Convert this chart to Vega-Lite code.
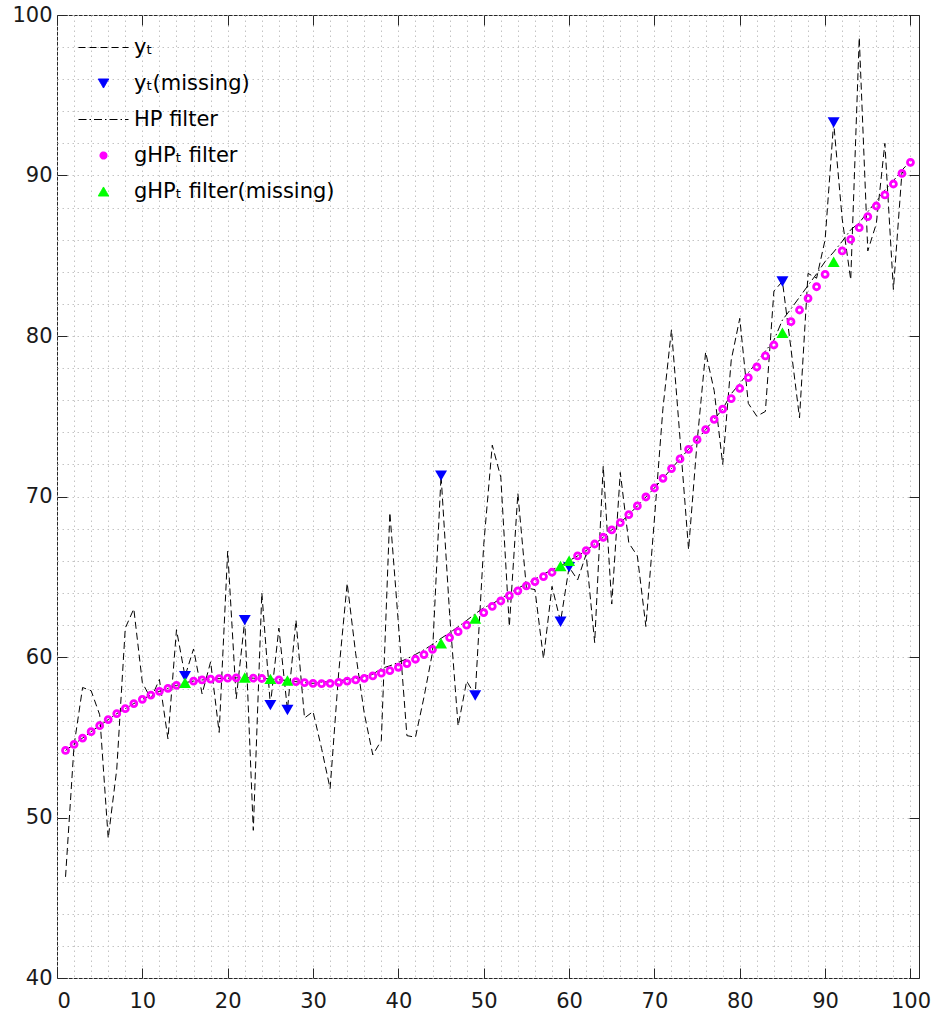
{
  "$schema": "https://vega.github.io/schema/vega-lite/v6.json",
  "width": 862,
  "height": 963,
  "autosize": {"type": "none"},
  "padding": {"left": 57, "top": 15, "right": 14, "bottom": 43},
  "background": "white",
  "config": {"view": {"stroke": "#262626", "strokeWidth": 1}, "font": "DejaVu Sans"},
  "data": {"values": [
    {"x":1,"yT":46.3,"HP":54.18,"gHP":54.18,"miss":0},
    {"x":2,"yT":54.5,"HP":54.56,"gHP":54.56,"miss":0},
    {"x":3,"yT":58.1,"HP":54.95,"gHP":54.95,"miss":0},
    {"x":4,"yT":57.9,"HP":55.35,"gHP":55.35,"miss":0},
    {"x":5,"yT":56.4,"HP":55.72,"gHP":55.72,"miss":0},
    {"x":6,"yT":48.7,"HP":56.10,"gHP":56.10,"miss":0},
    {"x":7,"yT":53.0,"HP":56.47,"gHP":56.47,"miss":0},
    {"x":8,"yT":61.8,"HP":56.78,"gHP":56.78,"miss":0},
    {"x":9,"yT":63.0,"HP":57.10,"gHP":57.10,"miss":0},
    {"x":10,"yT":58.4,"HP":57.36,"gHP":57.36,"miss":0},
    {"x":11,"yT":57.4,"HP":57.63,"gHP":57.63,"miss":0},
    {"x":12,"yT":58.6,"HP":57.86,"gHP":57.86,"miss":0},
    {"x":13,"yT":54.9,"HP":58.05,"gHP":58.05,"miss":0},
    {"x":14,"yT":61.7,"HP":58.23,"gHP":58.23,"miss":0},
    {"x":15,"yT":58.8,"HP":58.40,"gHP":58.40,"miss":1},
    {"x":16,"yT":60.5,"HP":58.50,"gHP":58.50,"miss":0},
    {"x":17,"yT":57.7,"HP":58.57,"gHP":58.57,"miss":0},
    {"x":18,"yT":59.7,"HP":58.62,"gHP":58.62,"miss":0},
    {"x":19,"yT":55.3,"HP":58.65,"gHP":58.65,"miss":0},
    {"x":20,"yT":66.6,"HP":58.68,"gHP":58.68,"miss":0},
    {"x":21,"yT":57.4,"HP":58.70,"gHP":58.70,"miss":0},
    {"x":22,"yT":62.3,"HP":58.72,"gHP":58.72,"miss":1},
    {"x":23,"yT":49.2,"HP":58.68,"gHP":58.68,"miss":0},
    {"x":24,"yT":64.0,"HP":58.66,"gHP":58.66,"miss":0},
    {"x":25,"yT":57.0,"HP":58.64,"gHP":58.64,"miss":1},
    {"x":26,"yT":61.8,"HP":58.58,"gHP":58.58,"miss":0},
    {"x":27,"yT":56.7,"HP":58.54,"gHP":58.54,"miss":1},
    {"x":28,"yT":62.3,"HP":58.46,"gHP":58.46,"miss":0},
    {"x":29,"yT":56.2,"HP":58.40,"gHP":58.40,"miss":0},
    {"x":30,"yT":56.6,"HP":58.36,"gHP":58.36,"miss":0},
    {"x":31,"yT":54.3,"HP":58.44,"gHP":58.34,"miss":0},
    {"x":32,"yT":51.8,"HP":58.46,"gHP":58.36,"miss":0},
    {"x":33,"yT":59.0,"HP":58.52,"gHP":58.42,"miss":0},
    {"x":34,"yT":64.6,"HP":58.60,"gHP":58.50,"miss":0},
    {"x":35,"yT":60.2,"HP":58.67,"gHP":58.57,"miss":0},
    {"x":36,"yT":56.5,"HP":58.77,"gHP":58.67,"miss":0},
    {"x":37,"yT":53.9,"HP":58.92,"gHP":58.82,"miss":0},
    {"x":38,"yT":54.8,"HP":59.29,"gHP":58.99,"miss":0},
    {"x":39,"yT":69.0,"HP":59.45,"gHP":59.15,"miss":0},
    {"x":40,"yT":62.1,"HP":59.66,"gHP":59.36,"miss":0},
    {"x":41,"yT":55.1,"HP":59.89,"gHP":59.59,"miss":0},
    {"x":42,"yT":55.0,"HP":60.16,"gHP":59.86,"miss":0},
    {"x":43,"yT":57.5,"HP":60.45,"gHP":60.15,"miss":0},
    {"x":44,"yT":60.3,"HP":60.78,"gHP":60.48,"miss":0},
    {"x":45,"yT":71.3,"HP":61.16,"gHP":60.86,"miss":1},
    {"x":46,"yT":62.7,"HP":61.51,"gHP":61.21,"miss":0},
    {"x":47,"yT":55.7,"HP":61.88,"gHP":61.58,"miss":0},
    {"x":48,"yT":58.5,"HP":62.28,"gHP":61.98,"miss":0},
    {"x":49,"yT":57.6,"HP":62.69,"gHP":62.39,"miss":1},
    {"x":50,"yT":67.0,"HP":63.07,"gHP":62.77,"miss":0},
    {"x":51,"yT":73.2,"HP":63.31,"gHP":63.16,"miss":0},
    {"x":52,"yT":71.2,"HP":63.64,"gHP":63.49,"miss":0},
    {"x":53,"yT":61.9,"HP":63.97,"gHP":63.82,"miss":0},
    {"x":54,"yT":70.2,"HP":64.27,"gHP":64.12,"miss":0},
    {"x":55,"yT":64.3,"HP":64.58,"gHP":64.43,"miss":0},
    {"x":56,"yT":64.2,"HP":64.85,"gHP":64.70,"miss":0},
    {"x":57,"yT":59.9,"HP":65.16,"gHP":65.01,"miss":0},
    {"x":58,"yT":64.4,"HP":65.43,"gHP":65.28,"miss":0},
    {"x":59,"yT":62.2,"HP":65.67,"gHP":65.67,"miss":1},
    {"x":60,"yT":65.6,"HP":66.00,"gHP":66.00,"miss":1},
    {"x":61,"yT":64.8,"HP":66.30,"gHP":66.30,"miss":0},
    {"x":62,"yT":66.4,"HP":66.63,"gHP":66.63,"miss":0},
    {"x":63,"yT":60.9,"HP":67.04,"gHP":67.04,"miss":0},
    {"x":64,"yT":71.9,"HP":67.46,"gHP":67.46,"miss":0},
    {"x":65,"yT":63.3,"HP":67.92,"gHP":67.92,"miss":0},
    {"x":66,"yT":71.5,"HP":68.37,"gHP":68.37,"miss":0},
    {"x":67,"yT":67.1,"HP":68.87,"gHP":68.87,"miss":0},
    {"x":68,"yT":66.3,"HP":69.41,"gHP":69.41,"miss":0},
    {"x":69,"yT":61.9,"HP":69.97,"gHP":69.97,"miss":0},
    {"x":70,"yT":68.6,"HP":70.53,"gHP":70.53,"miss":0},
    {"x":71,"yT":75.5,"HP":71.13,"gHP":71.13,"miss":0},
    {"x":72,"yT":80.4,"HP":71.74,"gHP":71.74,"miss":0},
    {"x":73,"yT":73.6,"HP":72.34,"gHP":72.34,"miss":0},
    {"x":74,"yT":66.7,"HP":72.94,"gHP":72.94,"miss":0},
    {"x":75,"yT":73.4,"HP":73.54,"gHP":73.54,"miss":0},
    {"x":76,"yT":79.0,"HP":74.17,"gHP":74.17,"miss":0},
    {"x":77,"yT":76.6,"HP":74.81,"gHP":74.81,"miss":0},
    {"x":78,"yT":72.0,"HP":75.45,"gHP":75.45,"miss":0},
    {"x":79,"yT":78.5,"HP":76.40,"gHP":76.10,"miss":0},
    {"x":80,"yT":81.1,"HP":77.04,"gHP":76.74,"miss":0},
    {"x":81,"yT":75.8,"HP":77.71,"gHP":77.41,"miss":0},
    {"x":82,"yT":75.0,"HP":78.37,"gHP":78.07,"miss":0},
    {"x":83,"yT":75.3,"HP":79.06,"gHP":78.76,"miss":0},
    {"x":84,"yT":82.8,"HP":79.74,"gHP":79.44,"miss":0},
    {"x":85,"yT":83.4,"HP":81.00,"gHP":80.20,"miss":1},
    {"x":86,"yT":79.2,"HP":81.69,"gHP":80.89,"miss":0},
    {"x":87,"yT":74.9,"HP":82.42,"gHP":81.62,"miss":0},
    {"x":88,"yT":83.9,"HP":83.15,"gHP":82.35,"miss":0},
    {"x":89,"yT":83.6,"HP":83.87,"gHP":83.07,"miss":0},
    {"x":90,"yT":86.0,"HP":84.64,"gHP":83.84,"miss":0},
    {"x":91,"yT":93.3,"HP":85.23,"gHP":84.63,"miss":1},
    {"x":92,"yT":87.3,"HP":85.90,"gHP":85.30,"miss":0},
    {"x":93,"yT":83.5,"HP":86.62,"gHP":86.02,"miss":0},
    {"x":94,"yT":98.6,"HP":87.05,"gHP":86.75,"miss":0},
    {"x":95,"yT":85.3,"HP":87.74,"gHP":87.44,"miss":0},
    {"x":96,"yT":87.0,"HP":88.40,"gHP":88.10,"miss":0},
    {"x":97,"yT":92.0,"HP":89.09,"gHP":88.79,"miss":0},
    {"x":98,"yT":82.9,"HP":89.67,"gHP":89.47,"miss":0},
    {"x":99,"yT":90.2,"HP":90.33,"gHP":90.13,"miss":0},
    {"x":100,"yT":90.0,"HP":90.90,"gHP":90.82,"miss":0}
  ]},
  "resolve": {"axis": {"x": "independent", "y": "independent"}},
  "layer": [
    {
      "mark": {"type": "line", "strokeDash": [7, 4], "strokeWidth": 1, "clip": true},
      "encoding": {
        "x": {"field": "x", "type": "quantitative", "scale": {"domain": [0, 101], "nice": false, "zero": false},
          "axis": {"orient": "bottom", "title": null, "values": [0,2,4,6,8,10,12,14,16,18,20,22,24,26,28,30,32,34,36,38,40,42,44,46,48,50,52,54,56,58,60,62,64,66,68,70,72,74,76,78,80,82,84,86,88,90,92,94,96,98,100],
            "labelExpr": "datum.value % 10 === 0 ? datum.label : ''", "grid": true, "gridDash": [1.5, 3.5], "gridColor": "#c4c4c4", "gridWidth": 1,
            "tickOpacity": {"condition": {"test": "datum.value % 10 === 0", "value": 1}, "value": 0},
            "tickSize": -10, "tickColor": "#262626", "domain": false, "labelFont": "DejaVu Sans", "labelFontSize": 21, "labelColor": "#1a1a1a", "labelPadding": 22}},
        "y": {"field": "yT", "type": "quantitative", "scale": {"domain": [40, 100], "nice": false, "zero": false},
          "axis": {"orient": "left", "title": null, "values": [40,42,44,46,48,50,52,54,56,58,60,62,64,66,68,70,72,74,76,78,80,82,84,86,88,90,92,94,96,98,100],
            "labelExpr": "datum.value % 10 === 0 ? datum.label : ''", "grid": true, "gridDash": [1.5, 3.5], "gridColor": "#c4c4c4", "gridWidth": 1,
            "tickOpacity": {"condition": {"test": "datum.value % 10 === 0", "value": 1}, "value": 0},
            "tickSize": -10, "tickColor": "#262626", "domain": false, "labelFont": "DejaVu Sans", "labelFontSize": 21, "labelColor": "#1a1a1a", "labelPadding": 15}},
        "color": {"datum": "yT", "scale": {"domain": ["yT", "yTm", "HP", "gHP", "gHPm"], "range": ["#000000", "#0000FF", "#000000", "#FF00FF", "#00FF00"]},
          "legend": {"title": null, "orient": "none", "legendX": 36, "legendY": 22, "symbolSize": 144, "labelOffset": 20, "rowPadding": 14, "padding": 0,
            "labelFont": "DejaVu Sans", "labelFontSize": 21, "labelColor": "#000000", "labelLimit": 400,
            "labelExpr": "datum.value === 'yT' ? 'yₜ' : datum.value === 'yTm' ? 'yₜ(missing)' : datum.value === 'HP' ? 'HP filter' : datum.value === 'gHP' ? 'gHPₜ filter' : 'gHPₜ filter(missing)'",
            "encode": {"symbols": {"update": {
              "shape": {"signal": "datum.value === 'yT' || datum.value === 'HP' ? 'stroke' : datum.value === 'yTm' ? 'triangle-down' : datum.value === 'gHP' ? 'circle' : 'triangle-up'"},
              "size": {"signal": "datum.value === 'yT' || datum.value === 'HP' ? 2500 : datum.value === 'gHP' ? 31 : 110"},
              "strokeDash": {"signal": "datum.value === 'yT' ? [7,4] : datum.value === 'HP' ? [8,3,1.5,3] : [1,0]"},
              "fill": {"signal": "datum.value === 'yTm' ? '#0000FF' : datum.value === 'gHPm' ? '#00FF00' : 'transparent'"},
              "stroke": {"signal": "datum.value === 'yTm' ? '#0000FF' : datum.value === 'gHPm' ? '#00FF00' : datum.value === 'gHP' ? '#FF00FF' : '#000000'"},
              "strokeWidth": {"signal": "datum.value === 'gHP' ? 2.5 : 1"},
              "opacity": {"value": 1}
            }}}}}
      }
    },
    {
      "transform": [{"filter": "datum.miss === 1"}],
      "mark": {"type": "point", "shape": "triangle-down", "filled": true, "size": 144, "opacity": 1},
      "encoding": {
        "x": {"field": "x", "type": "quantitative", "scale": {"domain": [0, 101], "nice": false, "zero": false},
          "axis": {"orient": "top", "title": null, "values": [0,10,20,30,40,50,60,70,80,90,100], "labels": false, "grid": false, "tickSize": -10, "tickColor": "#262626", "domain": false}},
        "y": {"field": "yT", "type": "quantitative", "scale": {"domain": [40, 100], "nice": false, "zero": false},
          "axis": {"orient": "right", "title": null, "values": [40,50,60,70,80,90,100], "labels": false, "grid": false, "tickSize": -10, "tickColor": "#262626", "domain": false}},
        "color": {"datum": "yTm", "scale": {"domain": ["yT", "yTm", "HP", "gHP", "gHPm"], "range": ["#000000", "#0000FF", "#000000", "#FF00FF", "#00FF00"]}}
      }
    },
    {
      "mark": {"type": "line", "strokeDash": [8, 3, 1.5, 3], "strokeWidth": 1},
      "encoding": {
        "x": {"field": "x", "type": "quantitative", "axis": null},
        "y": {"field": "HP", "type": "quantitative", "axis": null},
        "color": {"datum": "HP", "scale": {"domain": ["yT", "yTm", "HP", "gHP", "gHPm"], "range": ["#000000", "#0000FF", "#000000", "#FF00FF", "#00FF00"]}}
      }
    },
    {
      "transform": [{"filter": "datum.miss === 0"}],
      "mark": {"type": "point", "shape": "circle", "filled": false, "size": 36, "strokeWidth": 2.8, "opacity": 1},
      "encoding": {
        "x": {"field": "x", "type": "quantitative", "axis": null},
        "y": {"field": "gHP", "type": "quantitative", "axis": null},
        "color": {"datum": "gHP", "scale": {"domain": ["yT", "yTm", "HP", "gHP", "gHPm"], "range": ["#000000", "#0000FF", "#000000", "#FF00FF", "#00FF00"]}}
      }
    },
    {
      "transform": [{"filter": "datum.miss === 1"}],
      "mark": {"type": "point", "shape": "triangle-up", "filled": true, "size": 144, "opacity": 1},
      "encoding": {
        "x": {"field": "x", "type": "quantitative", "axis": null},
        "y": {"field": "gHP", "type": "quantitative", "axis": null},
        "color": {"datum": "gHPm", "scale": {"domain": ["yT", "yTm", "HP", "gHP", "gHPm"], "range": ["#000000", "#0000FF", "#000000", "#FF00FF", "#00FF00"]}}
      }
    }
  ]
}
